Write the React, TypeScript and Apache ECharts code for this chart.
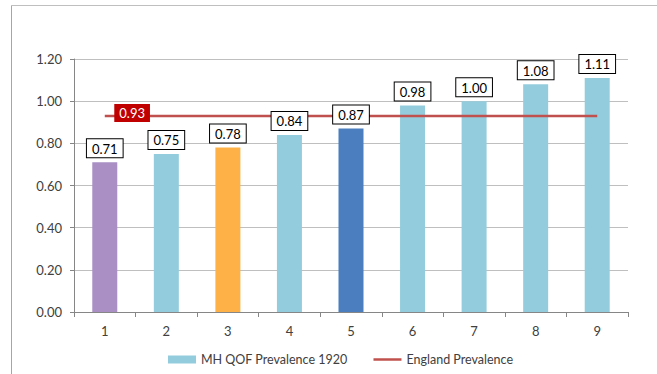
import React, { useEffect, useRef } from "react";
import * as echarts from "echarts";

const categories = ["1", "2", "3", "4", "5", "6", "7", "8", "9"];
const prevalence = [0.71, 0.75, 0.78, 0.84, 0.87, 0.98, 1.0, 1.08, 1.11];
const barColors = ["#A98FC4", "#93CDDD", "#FDB147", "#93CDDD", "#4A7EBF", "#93CDDD", "#93CDDD", "#93CDDD", "#93CDDD"];
const englandValue = 0.93;
const englandLine = categories.map(() => englandValue);

const FONT = "Lato, 'Open Sans', sans-serif";

export default function App() {
  const ref = useRef<HTMLDivElement>(null);
  useEffect(() => {
    const chart = echarts.init(ref.current!, null, { renderer: "svg" });
    chart.setOption({
      animation: false,
      textStyle: { fontFamily: FONT },
      graphic: [
        { type: "line", shape: { x1: 11.5, y1: 5.5, x2: 660, y2: 5.5 }, style: { stroke: "#BFBFBF", lineWidth: 1 } },
        { type: "line", shape: { x1: 11.5, y1: 5.5, x2: 11.5, y2: 380 }, style: { stroke: "#A6A6A6", lineWidth: 1 } },
      ],
      grid: { left: 74, right: 29, top: 59, bottom: 62, containLabel: false },
      legend: {
        top: 348,
        left: 163,
        itemWidth: 28,
        itemHeight: 8,
        itemGap: 26,
        symbolKeepAspect: true,
        textStyle: { fontFamily: FONT, fontSize: 12.5, color: "#404040" },
        data: [
          { name: "MH QOF Prevalence 1920", icon: "rect" },
          { name: "England Prevalence", icon: "path://M0,0 H28 V2.5 H0 Z" },
        ],
      },
      xAxis: {
        type: "category",
        data: categories,
        boundaryGap: true,
        axisLine: { lineStyle: { color: "#868686" } },
        axisTick: { show: true, length: 5, lineStyle: { color: "#868686" } },
        axisLabel: { color: "#404040", fontSize: 13, margin: 12, fontFamily: FONT },
      },
      yAxis: {
        type: "value",
        min: 0,
        max: 1.2,
        interval: 0.2,
        axisLine: { show: true, lineStyle: { color: "#868686" } },
        axisTick: { show: true, length: 4, lineStyle: { color: "#868686" } },
        axisLabel: {
          color: "#404040",
          fontSize: 13,
          margin: 12,
          fontFamily: FONT,
          formatter: (v: number) => v.toFixed(2),
        },
        splitLine: { lineStyle: { color: "#BFBFBF" } },
      },
      series: [
        {
          name: "MH QOF Prevalence 1920",
          type: "bar",
          barWidth: 25,
          color: "#93CDDD",
          data: prevalence.map((v, i) => ({ value: v, itemStyle: { color: barColors[i] } })),
          z: 2,
        },
        {
          name: "England Prevalence",
          type: "line",
          symbol: "none",
          color: "#C0504D",
          itemStyle: { color: "#C0504D" },
          lineStyle: { color: "#C0504D", width: 2.5 },
          data: englandLine,
          z: 3,
        },
        {
          name: "Bar Labels",
          type: "bar",
          barWidth: 25,
          barGap: "-100%",
          itemStyle: { color: "rgba(0,0,0,0)" },
          data: prevalence,
          label: {
            show: true,
            position: "top",
            distance: 5,
            formatter: (p: any) => p.value.toFixed(2),
            color: "#000",
            fontSize: 13,
            fontFamily: FONT,
            backgroundColor: "#fff",
            borderColor: "#000",
            borderWidth: 1,
            padding: [3, 5, 2, 5],
          },
          z: 6,
        },
        {
          name: "England Label",
          type: "scatter",
          symbolSize: 1,
          itemStyle: { color: "rgba(0,0,0,0)", opacity: 1 },
          data: [[categories[0], englandValue]],
          label: {
            show: true,
            position: "right",
            distance: 9,
            offset: [0, -3],
            formatter: (p: any) => p.value[1].toFixed(2),
            color: "#fff",
            fontSize: 13,
            fontFamily: FONT,
            backgroundColor: "#C00000",
            padding: [3, 5, 2, 5],
          },
          z: 10,
        },
      ],
    });
    return () => chart.dispose();
  }, []);
  return (
    <div
      ref={ref}
      style={{ position: "fixed", left: 0, top: 0, width: 657, height: 374, background: "#fff" }}
    />
  );
}
